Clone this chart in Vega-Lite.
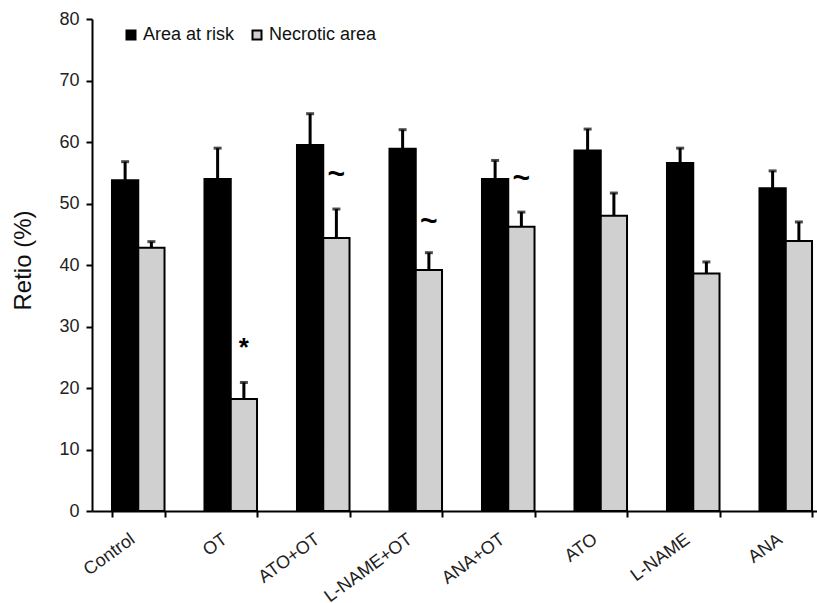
{
  "$schema": "https://vega.github.io/schema/vega-lite/v6.json",
  "autosize": "none",
  "width": 725,
  "height": 492,
  "padding": {"left": 92, "top": 19, "right": 0, "bottom": 92},
  "background": "white",
  "config": {
    "font": "Liberation Sans",
    "view": {"stroke": null},
    "axis": {"grid": false, "domainColor": "black", "domainWidth": 2, "tickColor": "black", "tickWidth": 2, "tickSize": 6, "labelColor": "#222", "labelFontSize": 18, "titleFontWeight": "normal"}
  },
  "data": {
    "values": [
      {"group": "Control", "series": "Area at risk", "value": 53.8, "hi": 56.8},
      {"group": "Control", "series": "Necrotic area", "value": 42.8, "hi": 43.8},
      {"group": "OT", "series": "Area at risk", "value": 54.0, "hi": 59.0},
      {"group": "OT", "series": "Necrotic area", "value": 18.2, "hi": 20.9, "note": "*", "notey": 27.4},
      {"group": "ATO+OT", "series": "Area at risk", "value": 59.5, "hi": 64.6},
      {"group": "ATO+OT", "series": "Necrotic area", "value": 44.4, "hi": 49.1, "note": "~", "notey": 54.6},
      {"group": "L-NAME+OT", "series": "Area at risk", "value": 58.9, "hi": 62.0},
      {"group": "L-NAME+OT", "series": "Necrotic area", "value": 39.2, "hi": 42.0, "note": "~", "notey": 47.0},
      {"group": "ANA+OT", "series": "Area at risk", "value": 54.0, "hi": 57.0},
      {"group": "ANA+OT", "series": "Necrotic area", "value": 46.2, "hi": 48.6, "note": "~", "notey": 54.0},
      {"group": "ATO", "series": "Area at risk", "value": 58.6, "hi": 62.1},
      {"group": "ATO", "series": "Necrotic area", "value": 48.0, "hi": 51.7},
      {"group": "L-NAME", "series": "Area at risk", "value": 56.6, "hi": 59.0},
      {"group": "L-NAME", "series": "Necrotic area", "value": 38.6, "hi": 40.5},
      {"group": "ANA", "series": "Area at risk", "value": 52.5, "hi": 55.3},
      {"group": "ANA", "series": "Necrotic area", "value": 43.9, "hi": 47.0}
    ]
  },
  "encoding": {
    "x": {
      "field": "group", "type": "nominal", "sort": null,
      "scale": {"paddingInner": 0.432, "paddingOuter": 0.216, "range": [0, 740]},
      "axis": {"title": null, "tickBand": "extent", "labelAngle": -36, "labelAlign": "right", "labelBaseline": "top", "labelPadding": 13, "labelOffset": -11}
    },
    "xOffset": {"field": "series", "type": "nominal", "scale": {"paddingInner": 0, "paddingOuter": 0}}
  },
  "layer": [
    {
      "mark": {"type": "bar", "stroke": "black", "strokeWidth": 2},
      "encoding": {
        "y": {
          "field": "value", "type": "quantitative",
          "scale": {"domain": [0, 80], "nice": false},
          "axis": {"title": "Retio (%)", "titleFontSize": 24, "titleColor": "#111", "titlePadding": 23, "titleY": 241, "values": [0, 10, 20, 30, 40, 50, 60, 70, 80], "labelPadding": 7}
        },
        "color": {
          "field": "series", "type": "nominal",
          "scale": {"domain": ["Area at risk", "Necrotic area"], "range": ["#000000", "#d0d0d0"]},
          "legend": {"title": null, "orient": "none", "legendX": 30, "legendY": 7, "direction": "horizontal", "symbolType": "square", "symbolSize": 81, "symbolStrokeColor": "black", "symbolStrokeWidth": 2, "labelFontSize": 18, "labelColor": "#111", "columnPadding": 13, "labelOffset": 3, "padding": 0}
        }
      }
    },
    {
      "mark": {"type": "rule", "strokeWidth": 3, "color": "black"},
      "encoding": {
        "y": {"field": "value", "type": "quantitative"},
        "y2": {"field": "hi"}
      }
    },
    {
      "mark": {"type": "tick", "thickness": 3, "size": 8, "color": "black", "orient": "horizontal"},
      "encoding": {
        "y": {"field": "hi", "type": "quantitative"}
      }
    },
    {
      "transform": [{"filter": "datum.note == '~'"}],
      "mark": {"type": "text", "fontSize": 30, "fontWeight": "bold", "color": "black", "baseline": "middle"},
      "encoding": {
        "y": {"field": "notey", "type": "quantitative"},
        "text": {"field": "note"}
      }
    },
    {
      "transform": [{"filter": "datum.note == '*'"}],
      "mark": {"type": "text", "fontSize": 26, "fontWeight": "bold", "color": "black", "baseline": "middle", "dy": 6},
      "encoding": {
        "y": {"field": "notey", "type": "quantitative"},
        "text": {"field": "note"}
      }
    }
  ]
}
